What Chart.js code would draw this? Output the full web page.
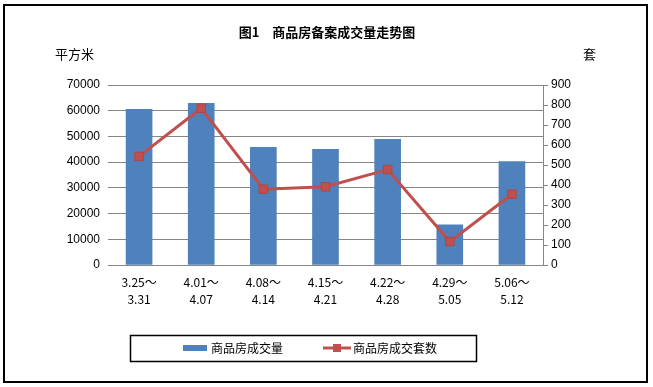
<!DOCTYPE html>
<html>
<head>
<meta charset="utf-8">
<script src="https://cdn.jsdelivr.net/npm/chart.js@4/dist/chart.umd.min.js"></script>
<style>
  html, body { margin: 0; padding: 0; background: #fff; }
  #wrap { position: relative; width: 653px; height: 387px; }
</style>
</head>
<body>
<div id="wrap"><canvas id="chart" width="653" height="387"></canvas></div>
<script>
const categories = [
  ['3.25～', '3.31'],
  ['4.01～', '4.07'],
  ['4.08～', '4.14'],
  ['4.15～', '4.21'],
  ['4.22～', '4.28'],
  ['4.29～', '5.05'],
  ['5.06～', '5.12']
];
const areaValues = [60500, 62900, 45800, 45000, 48900, 15600, 40200];
const unitValues = [543, 784, 379, 391, 477, 117, 354];
const areaLabel = '商品房成交量';
const unitLabel = '商品房成交套数';
const chartTitle = '图1　商品房备案成交量走势图';
const leftUnit = '平方米';
const rightUnit = '套';

const blue = '#4F81BD';
const red = '#C0504D';
const grid = '#868686';
const cjk = '"Noto Sans CJK SC", "Liberation Sans", sans-serif';

// title, unit names, framed legend and outer border
const decor = {
  id: 'decor',
  afterDraw(chart) {
    const ctx = chart.ctx;
    ctx.save();
    ctx.fillStyle = '#000';
    ctx.textBaseline = 'middle';

    ctx.font = 'bold 13px ' + cjk;
    ctx.textAlign = 'center';
    ctx.fillText(chartTitle, 327, 32);

    ctx.font = '13px ' + cjk;
    ctx.textAlign = 'left';
    ctx.fillText(leftUnit, 55, 54);
    ctx.fillText(rightUnit, 583, 54);

    // legend
    ctx.strokeStyle = '#000';
    ctx.lineWidth = 1.5;
    ctx.strokeRect(130.5, 335.5, 346, 26);

    ctx.fillStyle = blue;
    ctx.fillRect(183, 345, 24, 6);
    ctx.fillStyle = '#000';
    ctx.font = '12px ' + cjk;
    ctx.fillText(chart.data.datasets[0].label, 211, 348.5);

    ctx.strokeStyle = red;
    ctx.lineWidth = 3;
    ctx.beginPath();
    ctx.moveTo(323, 348);
    ctx.lineTo(351, 348);
    ctx.stroke();
    ctx.fillStyle = red;
    ctx.fillRect(333, 344, 8, 8);
    ctx.fillStyle = '#000';
    ctx.fillText(chart.data.datasets[1].label, 353, 348.5);

    // outer frame
    ctx.strokeStyle = '#000';
    ctx.lineWidth = 2;
    ctx.strokeRect(4, 5, 643, 377);
    ctx.restore();
  }
};

new Chart(document.getElementById('chart'), {
  data: {
    labels: categories,
    datasets: [
      {
        type: 'bar',
        label: areaLabel,
        data: areaValues,
        backgroundColor: blue,
        barThickness: 26,
        yAxisID: 'y',
        order: 1
      },
      {
        type: 'line',
        label: unitLabel,
        data: unitValues,
        borderColor: red,
        borderWidth: 3,
        pointStyle: 'rect',
        pointRadius: 6,
        pointBackgroundColor: red,
        pointBorderColor: '#B24643',
        pointBorderWidth: 1,
        tension: 0,
        yAxisID: 'y1',
        order: 0
      }
    ]
  },
  options: {
    responsive: false,
    animation: false,
    layout: { padding: { top: 85, left: 0, right: 0, bottom: 82 } },
    plugins: {
      legend: { display: false },
      tooltip: { enabled: false }
    },
    scales: {
      x: {
        grid: { display: false, drawTicks: false },
        border: { color: grid, width: 1 },
        ticks: {
          color: '#000',
          font: { family: cjk, size: 12, lineHeight: 1.4 },
          padding: 9,
          maxRotation: 0,
          autoSkip: false
        },
        afterFit(scale) { scale.height = 40; }
      },
      y: {
        position: 'left',
        min: 0,
        max: 70000,
        ticks: {
          stepSize: 10000,
          color: '#000',
          font: { family: '"Liberation Sans", Arial, sans-serif', size: 12 },
          padding: 8,
          callback: (v) => String(v)
        },
        grid: { color: grid, drawTicks: false },
        border: { display: false },
        afterFit(scale) { scale.width = 108; }
      },
      y1: {
        position: 'right',
        min: 0,
        max: 900,
        ticks: {
          stepSize: 100,
          color: '#000',
          font: { family: '"Liberation Sans", Arial, sans-serif', size: 12 },
          padding: 3,
          callback: (v) => String(v)
        },
        grid: { drawOnChartArea: false, color: grid, tickLength: 5 },
        border: { color: grid, width: 1 },
        afterFit(scale) { scale.width = 110; }
      }
    }
  },
  plugins: [decor]
});
</script>
</body>
</html>
